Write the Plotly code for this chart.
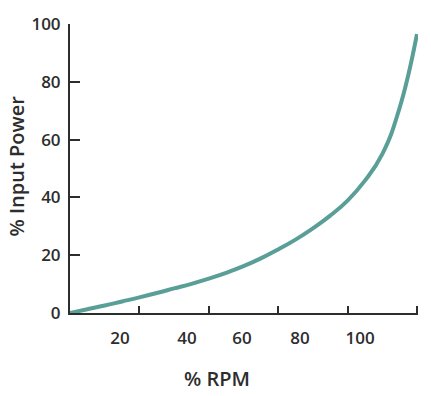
import plotly.graph_objects as go

# Data
rpm = [0, 5, 10, 15, 20, 25, 30, 35, 40, 45, 50, 55, 60, 65, 70, 75, 80, 85, 90, 95, 100]
power = [0, 1.3, 2.6, 4.0, 5.4, 6.9, 8.5, 10.1, 11.9, 13.9, 16.2, 18.9, 22.0, 25.4, 29.3, 33.7,
         38.9, 45.8, 55.0, 71.0, 96.5]

x_ticks = [20, 40, 60, 80, 100]
x_tick_labels = ["20", "40", "60", "80", "100"]
# where the printed labels sit along the axis in the reference (offset from the tick marks)
x_label_pos = [14.4, 33.7, 49.6, 66.3, 83.6]
y_ticks = [0, 20, 40, 60, 80, 100]

TEXT = "#2d2d2d"
FONT = "Open Sans"

fig = go.Figure()
fig.add_trace(go.Scatter(x=rpm, y=power, mode="lines",
                         line=dict(color="#5a9e98", width=4, shape="spline", smoothing=1.3),
                         hoverinfo="skip", showlegend=False))
# invisible trace to activate second x-axis for labels
fig.add_trace(go.Scatter(x=[None], y=[None], xaxis="x2", showlegend=False, hoverinfo="skip"))

fig.update_layout(
    width=431, height=396,
    margin=dict(l=70, r=13, t=15, b=83),
    paper_bgcolor="white", plot_bgcolor="white",
    font=dict(family=FONT, color=TEXT, size=17, weight=600),
    xaxis=dict(range=[0, 100.3], tickvals=x_ticks, showticklabels=False, ticks="inside", ticklen=7,
               tickwidth=2, tickcolor=TEXT, showline=True, linecolor=TEXT, linewidth=2,
               showgrid=False, zeroline=False, fixedrange=True),
    xaxis2=dict(range=[0, 100.3], overlaying="x", anchor="y", side="bottom", tickvals=x_label_pos,
                ticktext=x_tick_labels, ticks="", showline=False, showgrid=False, zeroline=False,
                ticklabelstandoff=13, tickfont=dict(family=FONT, size=17, color=TEXT, weight=600)),
    yaxis=dict(range=[0, 100], tickvals=y_ticks, ticks="inside", ticklen=10, tickwidth=2, tickcolor=TEXT,
               showline=True, linecolor=TEXT, linewidth=2, showgrid=False, zeroline=False,
               ticklabelstandoff=4, tickfont=dict(family=FONT, size=17, color=TEXT, weight=600)),
    annotations=[
        dict(text="% RPM", xref="paper", yref="paper", x=(217 - 70) / 348, y=(313 - 381) / 298,
             showarrow=False, xanchor="center", yanchor="middle",
             font=dict(family=FONT, size=20, color=TEXT, weight=600)),
        dict(text="% Input Power", xref="paper", yref="paper", x=(17 - 70) / 348, y=(313 - 162) / 298,
             showarrow=False, xanchor="center", yanchor="middle", textangle=-90,
             font=dict(family=FONT, size=20, color=TEXT, weight=600)),
    ],
)

fig.write_html("out.html")
